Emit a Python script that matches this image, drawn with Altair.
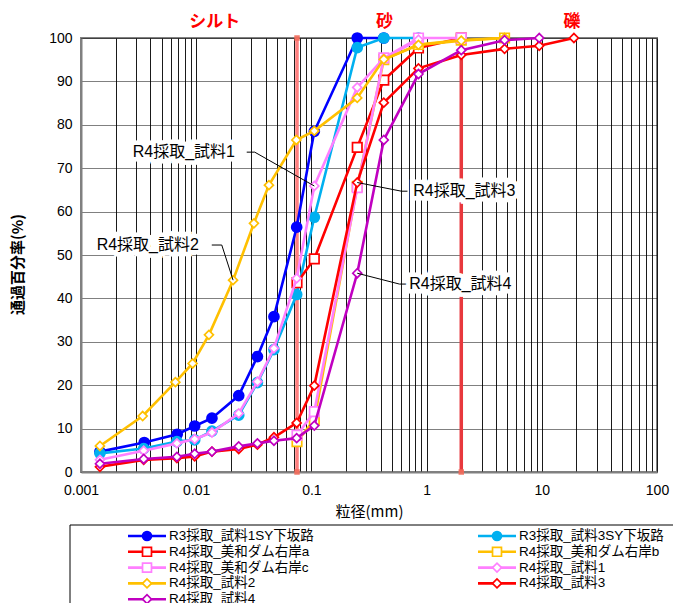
import altair as alt
import pandas as pd

# ---- sample names (legend order) ----
series_names = [
    "R3採取_試料1SY下坂路", "R3採取_試料3SY下坂路",
    "R4採取_美和ダム右岸a", "R4採取_美和ダム右岸b",
    "R4採取_美和ダム右岸c", "R4採取_試料1",
    "R4採取_試料2", "R4採取_試料3",
    "R4採取_試料4",
]

# ---- particle size (mm) and percent passing ----
d_r3_1 = [0.00146, 0.00354, 0.00684, 0.0097, 0.0137, 0.0234, 0.034, 0.0473, 0.0745, 0.106, 0.25, 0.425]
p_r3_1 = [4.7, 6.8, 8.7, 10.6, 12.4, 17.6, 26.6, 35.8, 56.4, 78.5, 100, 100]

d_r3_3 = [0.00146, 0.0035, 0.0068, 0.0097, 0.0137, 0.0234, 0.034, 0.0473, 0.0745, 0.106, 0.25, 0.425, 0.85]
p_r3_3 = [4.3, 5.4, 7.0, 7.4, 9.4, 13.1, 20.6, 28.2, 40.9, 58.7, 97.8, 100, 100]

d_miwa_a = [0.075, 0.106, 0.25, 0.425, 0.85, 2.0]
p_miwa_a = [43.6, 49.1, 74.8, 90.3, 97.7, 100]

d_miwa_b = [0.075, 0.106, 0.25, 0.425, 0.85, 2.0, 4.75]
p_miwa_b = [7.0, 12.0, 65.8, 95.0, 98.5, 99.5, 100]

d_miwa_c = [0.075, 0.106, 0.25, 0.425, 0.85, 2.0]
p_miwa_c = [8.5, 13.9, 65.5, 95.4, 100, 100]

d_r4_1 = [0.00146, 0.0035, 0.0068, 0.0097, 0.0137, 0.0234, 0.034, 0.0473, 0.0745, 0.106, 0.25, 0.425, 0.85]
p_r4_1 = [2.8, 4.9, 6.6, 7.6, 9.1, 13.5, 20.8, 28.5, 44.6, 65.9, 88.6, 95.3, 99.6]

d_r4_2 = [0.00146, 0.00343, 0.0066, 0.0093, 0.0129, 0.0209, 0.0317, 0.0428, 0.074, 0.106, 0.25, 0.425, 0.85, 2.0, 4.75]
p_r4_2 = [6.0, 12.9, 20.7, 25.0, 31.6, 44.2, 57.3, 66.1, 76.5, 78.6, 86.2, 95.1, 98.4, 99.4, 100]

d_r4_3 = [0.00146, 0.0035, 0.0068, 0.0097, 0.0137, 0.0234, 0.034, 0.0473, 0.0745, 0.106, 0.25, 0.425, 0.85, 2.0, 4.75, 9.5, 19.0]
p_r4_3 = [1.2, 2.8, 3.2, 3.6, 4.7, 5.3, 6.3, 8.0, 11.3, 19.9, 66.7, 85.1, 93.0, 96.1, 97.5, 98.2, 100]

d_r4_4 = [0.00146, 0.0035, 0.0068, 0.0097, 0.0137, 0.0234, 0.034, 0.0473, 0.0745, 0.106, 0.25, 0.425, 0.85, 2.0, 4.75, 9.5]
p_r4_4 = [1.9, 3.0, 3.5, 4.2, 4.7, 5.9, 6.6, 7.2, 7.8, 10.7, 45.8, 76.5, 91.7, 97.2, 99.5, 100]

sizes = [d_r3_1, d_r3_3, d_miwa_a, d_miwa_b, d_miwa_c, d_r4_1, d_r4_2, d_r4_3, d_r4_4]
passes = [p_r3_1, p_r3_3, p_miwa_a, p_miwa_b, p_miwa_c, p_r4_1, p_r4_2, p_r4_3, p_r4_4]

# soil class boundaries (mm) and class names
boundary_sizes = [0.075, 2.0]
zone_names = ["シルト", "砂", "礫"]
zone_x = [0.0145, 0.43, 18.3]
zone_y = [103.8, 103.8, 103.8]

# callouts: series index, point index, label position, leader start/elbow
callout_series = [5, 6, 7, 8]
callout_point = [9, 5, 10, 10]
callout_text_x = [0.00781, 0.0038, 2.126, 1.963]
callout_text_y = [73.7, 52.3, 64.7, 43.3]
callout_start_x = [0.02745, 0.01365, 0.682, 0.682]
callout_elbow_x = [0.0322, 0.01667, 0.605, 0.581]

# ---- styles ----
colors = ["#0000FF", "#00B0F0", "#FF0000", "#FFC000", "#FF80FF", "#FF80FF", "#FFC000", "#FF0000", "#C000C0"]
fills = ["#0000FF", "#00B0F0", "white", "white", "white", "white", "white", "white", "white"]
shapes = ["circle", "circle", "square", "square", "square", "diamond", "diamond", "diamond", "diamond"]
msizes = [100, 100, 90, 90, 90, 80, 80, 80, 80]

FONT = "Liberation Sans, Noto Sans CJK JP, sans-serif"
JP_FONT = "Noto Sans CJK JP, sans-serif"

W, H = 576, 434

grid_vals = []
for k in range(-3, 2):
    for m in range(1, 10):
        grid_vals.append(round(m * 10 ** k, 6))
grid_vals.append(100)

x_enc = alt.X(
    "d:Q",
    scale=alt.Scale(type="log", domain=[0.001, 100], nice=False),
    axis=alt.Axis(
        values=grid_vals,
        labelExpr="indexof([0.001,0.01,0.1,1,10,100], datum.value) >= 0 ? toString(datum.value) : ''",
        grid=True, gridColor="#1a1a1a", gridWidth=1,
        ticks=False, tickSize=0,
        domainColor="#808080", domainWidth=2,
        labelFont=FONT, labelFontSize=14, labelColor="#000000", labelPadding=11,
        labelOverlap=False, labelFlush=False,
        title="粒径(mm)", titleFont=JP_FONT, titleFontSize=15, titleFontWeight="normal",
        titleColor="#000000", titlePadding=7,
    ),
)
y_enc = alt.Y(
    "p:Q",
    scale=alt.Scale(domain=[0, 100], nice=False),
    axis=alt.Axis(
        values=list(range(0, 101, 10)),
        grid=True, gridColor="#000000", gridDash=[1, 1], gridWidth=1,
        ticks=False, tickSize=0,
        domainColor="#808080", domainWidth=2,
        labelFont=FONT, labelFontSize=14, labelColor="#000000", labelPadding=9,
        title="通過百分率(%)", titleFont=JP_FONT, titleFontSize=15, titleFontWeight="bold",
        titleColor="#000000", titleX=-56, titleY=226,
    ),
)

layers = []

# class boundary lines
bdf = pd.DataFrame({"d": boundary_sizes, "p": [0, 0], "p2": [100, 100],
                    "c": ["#FF7F7F", "#E8383D"]})
layers.append(
    alt.Chart(bdf).mark_rule(strokeWidth=3.5).encode(
        x=x_enc, y=y_enc, y2="p2:Q", color=alt.Color("c:N", scale=None)
    )
)
cap_rows = []
for b in boundary_sizes:
    for v in (0, 100):
        cap_rows.append({"d": b, "p": v})
layers.append(
    alt.Chart(pd.DataFrame(cap_rows)).mark_point(
        shape="square", size=30, filled=True, color="#F26A5A", opacity=0.9
    ).encode(x=x_enc, y=y_enc)
)

# grading curves
for i in range(len(series_names)):
    df = pd.DataFrame({"d": sizes[i], "p": passes[i]})
    base = alt.Chart(df).encode(x=x_enc, y=y_enc)
    layers.append(base.mark_line(color=colors[i], strokeWidth=2.6))
    layers.append(
        base.mark_point(
            shape=shapes[i], size=msizes[i], filled=True, fill=fills[i],
            stroke=colors[i], strokeWidth=1.7, opacity=1,
        )
    )

# callout leaders and labels
lead_rows, lab_rows = [], []
for j, s in enumerate(callout_series):
    tx = sizes[s][callout_point[j]]
    ty = passes[s][callout_point[j]]
    lead_rows += [
        {"k": j, "o": 0, "d": callout_start_x[j], "p": callout_text_y[j]},
        {"k": j, "o": 1, "d": callout_elbow_x[j], "p": callout_text_y[j]},
        {"k": j, "o": 2, "d": tx, "p": ty},
    ]
    lab_rows.append({"d": callout_text_x[j], "p": callout_text_y[j], "t": series_names[s]})
layers.append(
    alt.Chart(pd.DataFrame(lead_rows)).mark_line(color="#000000", strokeWidth=1).encode(
        x=x_enc, y=y_enc, detail="k:N", order="o:Q"
    )
)
lab_df = pd.DataFrame(lab_rows)
layers.append(
    alt.Chart(lab_df).mark_text(
        font=FONT, fontSize=16, color="white", stroke="white", strokeWidth=9,
        baseline="middle", align="center",
    ).encode(x=x_enc, y=y_enc, text="t:N")
)
layers.append(
    alt.Chart(lab_df).mark_text(
        font=FONT, fontSize=16, color="#000000", baseline="middle", align="center",
    ).encode(x=x_enc, y=y_enc, text="t:N")
)

# class names above the plot
layers.append(
    alt.Chart(pd.DataFrame({"d": zone_x, "p": zone_y, "t": zone_names})).mark_text(
        font=JP_FONT, fontSize=17, fontWeight="bold", color="#FF0000", baseline="middle", align="center",
    ).encode(x=x_enc, y=y_enc, text="t:N")
)

# legend below the plot (pixel layout)
LEG_LEFT, LEG_RIGHT, LEG_TOP, LEG_BOTTOM = -11, 600, 487, 580
LINE_X0, LINE_LEN, COL_STEP, TEXT_GAP = 47, 38, 350, 3
ROW_Y0, ROW_STEP = 498, 15.8
leg = pd.DataFrame({"name": series_names, "color": colors, "fill": fills, "shape": shapes})
leg["col"] = [i % 2 for i in range(len(leg))]
leg["row"] = [i // 2 for i in range(len(leg))]
leg["x0"] = LINE_X0 + leg["col"] * COL_STEP
leg["x1"] = leg["x0"] + LINE_LEN
leg["xm"] = leg["x0"] + LINE_LEN / 2
leg["xt"] = leg["x1"] + TEXT_GAP
leg["y"] = ROW_Y0 + leg["row"] * ROW_STEP

layers.append(
    alt.Chart(pd.DataFrame({"a": [0]})).mark_rect(
        fill="white", stroke="#000000", strokeWidth=1
    ).encode(
        x=alt.value(LEG_LEFT), x2=alt.value(LEG_RIGHT),
        y=alt.value(LEG_TOP), y2=alt.value(LEG_BOTTOM),
    )
)
leg_base = alt.Chart(leg)
layers.append(
    leg_base.mark_rule(strokeWidth=2.6).encode(
        x=alt.X("x0:Q", scale=None, axis=None), x2="x1:Q",
        y=alt.Y("y:Q", scale=None, axis=None),
        color=alt.Color("color:N", scale=None),
    )
)
layers.append(
    leg_base.mark_point(filled=True, size=80, strokeWidth=1.7, opacity=1).encode(
        x=alt.X("xm:Q", scale=None, axis=None),
        y=alt.Y("y:Q", scale=None, axis=None),
        shape=alt.Shape("shape:N", scale=None),
        fill=alt.Fill("fill:N", scale=None),
        stroke=alt.Stroke("color:N", scale=None),
    )
)
layers.append(
    leg_base.mark_text(font=FONT, fontSize=13.5, color="#000000", align="left", baseline="middle").encode(
        x=alt.X("xt:Q", scale=None, axis=None),
        y=alt.Y("y:Q", scale=None, axis=None),
        text="name:N",
    )
)

chart = alt.layer(*layers).properties(
    width=W, height=H,
    autosize=alt.AutoSizeParams(type="none"),
    padding={"left": 81, "top": 38, "right": 16, "bottom": 131},
    background="white",
).configure_view(stroke="#808080", strokeWidth=2)

chart.save("out.html", embed_options={"renderer": "svg", "actions": False})
